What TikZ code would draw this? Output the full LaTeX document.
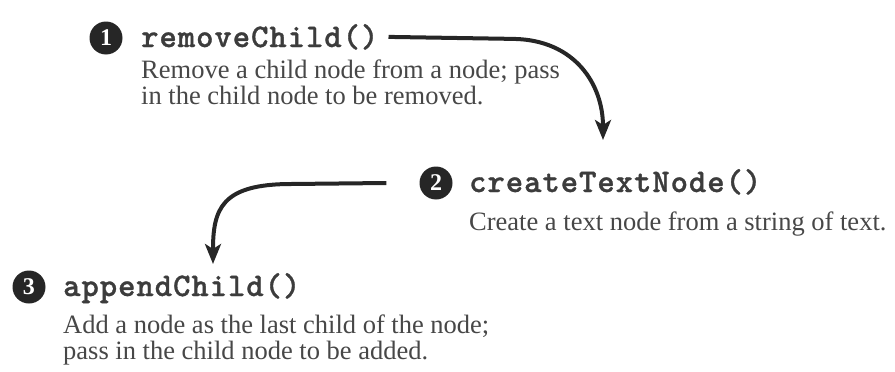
\documentclass[tikz,border=0pt]{standalone}
\usepackage{fontspec}
\setmainfont{Liberation Serif}
\newfontfamily\codefont{lmmonolt10-bold.otf}[LetterSpace=3,FakeBold=1]
\usetikzlibrary{arrows.meta}
\definecolor{ink}{HTML}{262626}
\definecolor{txt}{HTML}{474747}
\tikzset{
  >={Stealth[length=20pt,width=16pt,inset=5pt]},
  num/.style={circle,fill=ink,text=white,minimum size=33pt,inner sep=0pt,font=\fontsize{24}{24}\selectfont\bfseries},
  fn/.style={anchor=base west,inner sep=0pt,text=ink!90,font=\fontsize{33}{33}\selectfont\codefont},
  desc/.style={anchor=north west,inner sep=0pt,align=left,text=txt,font=\fontsize{26.5}{26}\selectfont},
  arr/.style={->,draw=ink,line width=4pt},
}
\begin{document}
\begin{tikzpicture}[x=1pt,y=-1pt]
\useasboundingbox (0,0) rectangle (895,372);
\node[num] (n1) at (106,38) {1};
\node[fn] (rc) at (141,47) {removeChild()};
\node[desc] (d1) at (141,60) {Remove a child node from a node; pass\\in the child node to be removed.};
\node[num] (n2) at (436,183) {2};
\node[fn] (ct) at (469,192) {createTextNode()};
\node[desc] (d2) at (469,212) {Create a text node from a string of text.};
\node[num] (n3) at (29,287) {3};
\node[fn] (ac) at (63,296) {appendChild()};
\node[desc] (d3) at (63,315) {Add a node as the last child of the node;\\pass in the child node to be added.};
\coordinate (t1) at (603,140);
\coordinate (t2) at (213,264);
\draw[arr] ([xshift=10pt]rc.east) -- ++(125,2) .. controls +(62,1) and +(0,-55) .. (t1);
\draw[arr] ([xshift=-33pt]n2.west) -- ++(-95,1) .. controls +(-70,0) and +(0,-55) .. (t2);
\end{tikzpicture}
\end{document}
